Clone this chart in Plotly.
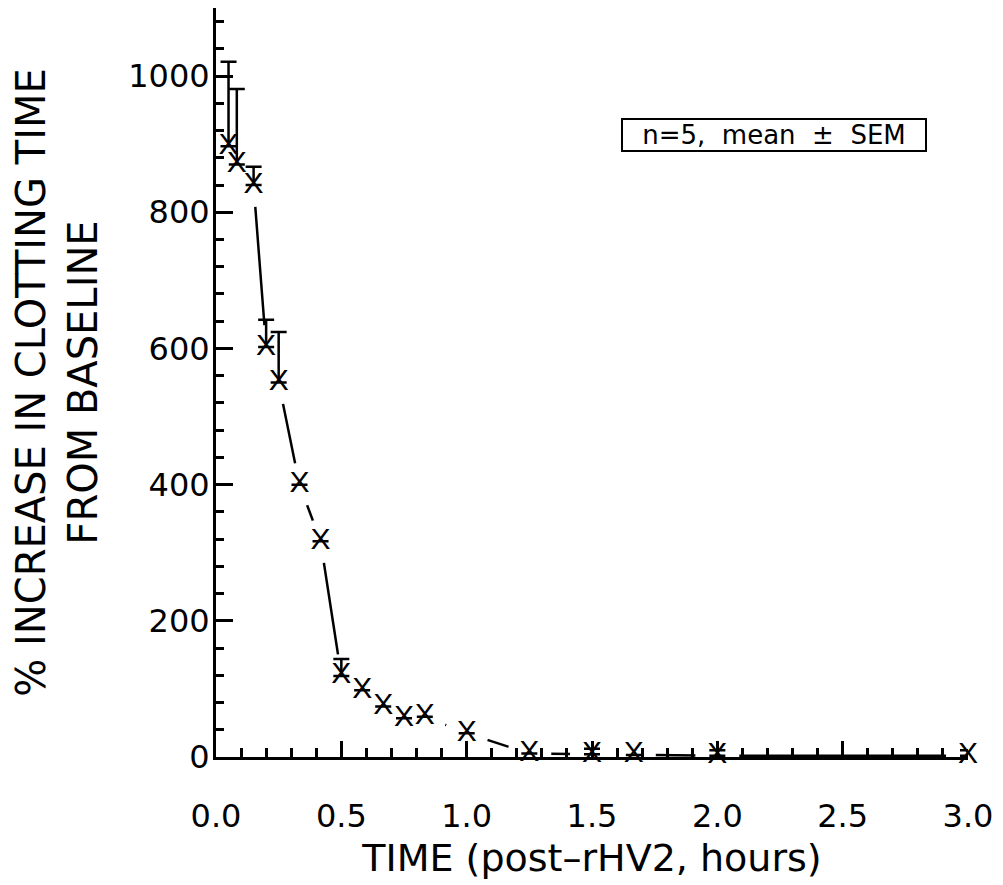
import plotly.graph_objects as go

# hours after rHV2 dose
time_h = [0.05, 0.083, 0.15, 0.2, 0.25, 0.333, 0.417, 0.5, 0.583, 0.667,
          0.75, 0.833, 1.0, 1.25, 1.5, 1.667, 2.0, 3.0]
# % increase in clotting time from baseline (mean)
pct_increase = [897, 870, 840, 602, 550, 400, 317, 119, 98, 74,
                57, 59, 35, 5, 4, 3, 2, 2]
# SEM (upper bar only), None = no bar drawn
sem = [124, 111, 27, 40, 74, None, None, 25, None, None,
       None, None, None, None, 8, None, 8, 8]
sem_minus = [0 if s is not None else None for s in sem]

font = "DejaVu Sans, Liberation Sans, sans-serif"

fig = go.Figure()

# connecting line, broken around each point by white discs
fig.add_trace(go.Scatter(
    x=time_h, y=pct_increase, mode="lines+markers",
    line=dict(color="black", width=2.5),
    marker=dict(symbol="circle", size=44, color="white", line=dict(width=0)),
    cliponaxis=False, hoverinfo="skip", showlegend=False,
))

# X symbols with upper SEM bars
fig.add_trace(go.Scatter(
    x=time_h, y=pct_increase, mode="text",
    text=["X"] * len(time_h), textposition="middle center",
    textfont=dict(family="Liberation Sans, Arial, sans-serif", size=30, color="black"),
    error_y=dict(type="data", symmetric=False, array=sem, arrayminus=sem_minus,
                 color="black", thickness=2.5, width=8),
    cliponaxis=False, showlegend=False,
))

fig.add_annotation(
    x=2.226, y=913, xref="x", yref="y",
    text="n=5,  mean  ±  SEM", showarrow=False,
    font=dict(family=font, size=26, color="black"),
    width=302, height=30,
    bordercolor="black", borderwidth=2, borderpad=0, bgcolor="white",
)

# page body adds an 8px offset, margins allow for it
fig.update_layout(
    width=1003, height=885,
    margin=dict(l=208, r=43, t=0, b=136),
    plot_bgcolor="white", paper_bgcolor="white",
    font=dict(family=font, color="black"),
)

fig.update_xaxes(
    range=[0, 3.0], dtick=0.5, tickformat=".1f",
    showline=True, linecolor="black", linewidth=3, mirror=False,
    ticks="inside", ticklen=16, tickwidth=2.5, tickcolor="black",
    minor=dict(dtick=0.1, ticks="inside", ticklen=9, tickwidth=2.5, tickcolor="black"),
    showgrid=False, zeroline=False, layer="above traces",
    tickfont=dict(size=32), ticklabelstandoff=29,
    title=dict(text="TIME (post\u2013rHV2, hours)", font=dict(size=38), standoff=10),
)

fig.update_yaxes(
    range=[0, 1100], dtick=200,
    showline=True, linecolor="black", linewidth=3, mirror=False,
    ticks="inside", ticklen=17, tickwidth=2.5, tickcolor="black",
    minor=dict(dtick=40, ticks="inside", ticklen=8, tickwidth=2.5, tickcolor="black"),
    showgrid=False, zeroline=False, layer="above traces",
    tickfont=dict(size=32), ticklabelstandoff=-3,
    title=dict(text="% INCREASE IN CLOTTING TIME<br>FROM BASELINE",
               font=dict(size=40), standoff=22),
)

fig.write_html("out.html")
